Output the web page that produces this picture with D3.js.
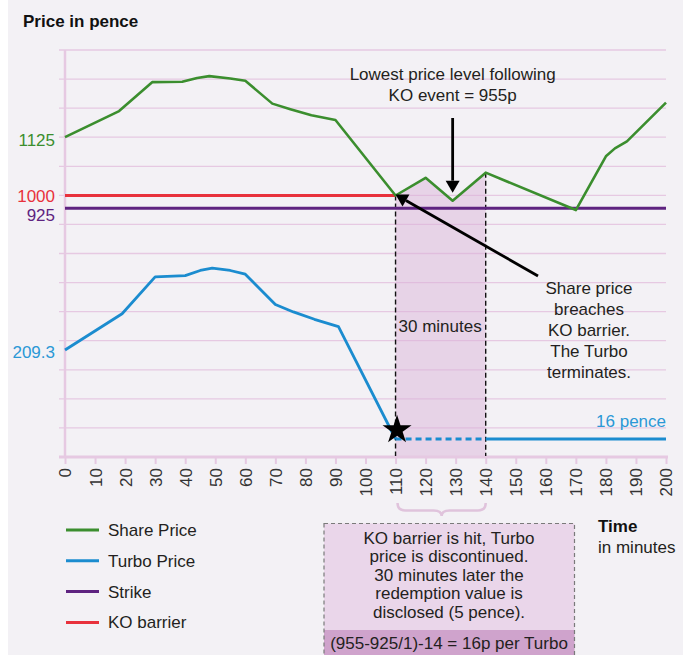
<!DOCTYPE html>
<html>
<head>
<meta charset="utf-8">
<script src="https://cdn.jsdelivr.net/npm/d3@7"></script>
<style>
  body { margin: 0; background: #fff; }
  svg { display: block; font-family: "Liberation Sans", Arial, sans-serif; }
</style>
</head>
<body>
<svg id="chart" width="694" height="655"></svg>
<script>
// minutes / pence
const shareTime  = [0, 18, 29, 39, 44, 48, 55, 60, 69, 75, 82, 90, 110, 120, 129, 140, 170, 180, 183, 187, 200];
const shareValue = [1125, 1181, 1243, 1244, 1252, 1256, 1251, 1246, 1197, 1185, 1172, 1162, 1000, 1038, 955, 1049, 918, 1084, 1101, 1116, 1199];

const turboTime  = [0, 19, 30, 40, 45, 49, 55, 60, 70, 76, 83, 91, 110];
const turboValue = [209.3, 288, 368, 371, 382, 387, 382, 374, 308, 292, 276, 260, 16];
const turboAfterTime  = [110, 140, 200];
const turboAfterValue = [16, 16, 16];

const strike = 925;
const koBarrier = 1000;
const koTime = 110;
const disclosedTime = 140;
const lowestAfterKO = 955;
const xTicks = d3.range(0, 201, 10);
const gridRows = 14;

const legendItems = ['Share Price', 'Turbo Price', 'Strike', 'KO barrier'];
const boxLines = ['KO barrier is hit, Turbo', 'price is discontinued.', '30 minutes later the', 'redemption value is', 'disclosed (5 pence).'];
const boxFormula = '(955-925/1)-14 = 16p per Turbo';
const breachLines = ['Share price', 'breaches', 'KO barrier.', 'The Turbo', 'terminates.'];
const lowestLines = ['Lowest price level following', 'KO event = 955p'];

const col = {
    share: '#3b8e2e',
    turbo: '#1b8ccf',
    strike: '#5e2380',
    ko: '#e8313c',
    grid: '#e6c9e2',
    text: '#231f20'
};

const svg = d3.select('#chart');

svg.append('rect')
    .attr('x', 8).attr('y', 0)
    .attr('width', 675).attr('height', 655)
    .attr('fill', '#f3f1f5');

const x = d3.scaleLinear().domain([0, 200]).range([65, 666]);
const gridY = d3.scaleLinear().domain([0, gridRows]).range([457, 50]);
// the share axis is schematic, so it is polylinear through the labelled levels
const shareY = d3.scaleLinear().domain([925, 955, 1000, 1125]).range([208.3, 200.7, 195.5, 137.2]);
const turboY = d3.scaleLinear().domain([16, 209.3]).range([439, 350]);

const share = shareTime.map((t, i) => ({ t, v: shareValue[i] }));
const turbo = turboTime.map((t, i) => ({ t, v: turboValue[i] }));
const turboAfter = turboAfterTime.map((t, i) => ({ t, v: turboAfterValue[i] }));

// grid
svg.append('g')
    .selectAll('line')
    .data(d3.range(1, gridRows + 1))
    .join('line')
    .attr('x1', 59).attr('x2', x(200))
    .attr('y1', d => gridY(d)).attr('y2', d => gridY(d))
    .attr('stroke', col.grid)
    .attr('stroke-width', 1.3);

// shaded 30 minute window under the share line
const windowData = share.filter(d => d.t >= koTime && d.t <= disclosedTime);
svg.append('path')
    .datum(windowData)
    .attr('fill', '#d9b0d6')
    .attr('fill-opacity', 0.45)
    .attr('d', d3.area().x(d => x(d.t)).y0(gridY(0)).y1(d => shareY(d.v)));

// y axis line
svg.append('line')
    .attr('x1', 65).attr('x2', 65)
    .attr('y1', gridY(gridRows)).attr('y2', gridY(0))
    .attr('stroke', col.grid).attr('stroke-width', 2.5);

// x axis
const xAxis = svg.append('g')
    .attr('transform', `translate(0,${gridY(0)})`)
    .call(d3.axisBottom(x).tickValues(xTicks).tickSize(7).tickPadding(10));
xAxis.select('.domain').attr('stroke', col.grid).attr('stroke-width', 3)
    .attr('d', `M59,0H${x(200) + 2}`);
xAxis.selectAll('.tick line').attr('stroke', col.grid).attr('stroke-width', 2);
xAxis.selectAll('.tick text')
    .attr('fill', '#333')
    .attr('font-size', 17)
    .attr('transform', 'rotate(-90)')
    .attr('text-anchor', 'end')
    .attr('x', -11).attr('y', 0).attr('dy', '0.35em');

// dashed window edges
[koTime, disclosedTime].forEach(t => {
    const d = share.find(p => p.t === t);
    svg.append('line')
        .attr('x1', x(t)).attr('x2', x(t))
        .attr('y1', shareY(d.v)).attr('y2', gridY(0) - 1)
        .attr('stroke', '#111').attr('stroke-width', 1.4)
        .attr('stroke-dasharray', '5,3');
});

// strike + KO barrier
svg.append('line')
    .attr('x1', x(0)).attr('x2', x(200))
    .attr('y1', shareY(strike)).attr('y2', shareY(strike))
    .attr('stroke', col.strike).attr('stroke-width', 3);
svg.append('line')
    .attr('x1', x(0)).attr('x2', x(koTime))
    .attr('y1', shareY(koBarrier)).attr('y2', shareY(koBarrier))
    .attr('stroke', col.ko).attr('stroke-width', 3);

// price lines
svg.append('path')
    .datum(share)
    .attr('fill', 'none').attr('stroke', col.share).attr('stroke-width', 2.6)
    .attr('stroke-linejoin', 'round')
    .attr('d', d3.line().x(d => x(d.t)).y(d => shareY(d.v)));

svg.append('path')
    .datum(turbo)
    .attr('fill', 'none').attr('stroke', col.turbo).attr('stroke-width', 2.8)
    .attr('stroke-linejoin', 'round')
    .attr('d', d3.line().x(d => x(d.t)).y(d => turboY(d.v)));

const tLine = d3.line().x(d => x(d.t)).y(d => turboY(d.v));
svg.append('path')
    .datum(turboAfter.slice(0, 2))
    .attr('fill', 'none').attr('stroke', col.turbo).attr('stroke-width', 2.8)
    .attr('stroke-dasharray', '6,4')
    .attr('d', tLine);
svg.append('path')
    .datum(turboAfter.slice(1))
    .attr('fill', 'none').attr('stroke', col.turbo).attr('stroke-width', 2.8)
    .attr('d', tLine);

// star at the knock-out
svg.append('path')
    .attr('d', d3.symbol(d3.symbolStar).size(262)())
    .attr('transform', `translate(${x(koTime) + 1.5},${turboY(16) - 9})`)
    .attr('fill', '#000');

// arrows
function arrow(x1, y1, x2, y2) {
    const ang = Math.atan2(y2 - y1, x2 - x1);
    const len = 12, half = 7;
    const bx = x2 - len * Math.cos(ang), by = y2 - len * Math.sin(ang);
    svg.append('line')
        .attr('x1', x1).attr('y1', y1).attr('x2', bx).attr('y2', by)
        .attr('stroke', '#000').attr('stroke-width', 2.8);
    svg.append('path')
        .attr('d', `M${x2},${y2}L${bx - half * Math.sin(ang)},${by + half * Math.cos(ang)}L${bx + half * Math.sin(ang)},${by - half * Math.cos(ang)}Z`)
        .attr('fill', '#000');
}
const lowX = x(shareTime[shareValue.indexOf(lowestAfterKO)]);
arrow(lowX, 118, lowX, shareY(lowestAfterKO) - 8);
arrow(538, 276, x(koTime), shareY(koBarrier) - 1);

// text helpers
function textBlock(lines, cx, y0, step, anchor, fill) {
    svg.append('g').selectAll('text')
        .data(lines)
        .join('text')
        .attr('x', cx)
        .attr('y', (d, i) => y0 + i * step)
        .attr('text-anchor', anchor)
        .attr('font-size', 17)
        .attr('fill', fill || col.text)
        .text(d => d);
}

textBlock(lowestLines, lowX, 80, 20.7, 'middle');
textBlock(breachLines, 589, 293.5, 21.2, 'middle');
textBlock(['30 minutes'], x(koTime) + 3, 332, 0, 'start');

svg.append('text')
    .attr('x', x(200)).attr('y', 427)
    .attr('text-anchor', 'end').attr('font-size', 17)
    .attr('fill', '#2a98d6').text('16 pence');

svg.append('text')
    .attr('x', 23).attr('y', 26.5)
    .attr('font-size', 17).attr('font-weight', 'bold')
    .attr('fill', '#111').text('Price in pence');

// y labels
const yLabels = [
    { text: '1125', y: shareY(1125), c: col.share, dy: 9 },
    { text: '1000', y: shareY(koBarrier), c: col.ko, dy: 6.5 },
    { text: '925', y: shareY(strike), c: col.strike, dy: 12.5 },
    { text: '209.3', y: turboY(209.3), c: '#2a98d6', dy: 8 }
];
svg.append('g').selectAll('text')
    .data(yLabels)
    .join('text')
    .attr('x', 55)
    .attr('y', d => d.y + d.dy)
    .attr('text-anchor', 'end')
    .attr('font-size', 17)
    .attr('fill', d => d.c)
    .text(d => d.text);

// brace under the window
const bx1 = x(koTime) + 2, bx2 = x(disclosedTime), bm = (bx1 + bx2) / 2;
svg.append('path')
    .attr('d', `M${bx1},503Q${bx1},510.5 ${bx1 + 8},510.5L${bm - 8},510.5Q${bm},510.5 ${bm},516Q${bm},510.5 ${bm + 8},510.5L${bx2 - 8},510.5Q${bx2},510.5 ${bx2},503`)
    .attr('fill', 'none').attr('stroke', '#e0c3dc').attr('stroke-width', 2.5);

// explanation box
svg.append('rect')
    .attr('x', 324).attr('y', 523.5).attr('width', 250.5).attr('height', 140)
    .attr('fill', '#ead6ea');
svg.append('rect')
    .attr('x', 324).attr('y', 630).attr('width', 250.5).attr('height', 30)
    .attr('fill', '#cfa3cc');
svg.append('rect')
    .attr('x', 324).attr('y', 523.5).attr('width', 250.5).attr('height', 140)
    .attr('fill', 'none').attr('stroke', '#7a7a7a').attr('stroke-width', 1.2)
    .attr('stroke-dasharray', '4,3');
textBlock(boxLines, 449, 544, 18.4, 'middle');
textBlock([boxFormula], 449, 649, 0, 'middle');

svg.append('text')
    .attr('x', 598).attr('y', 532)
    .attr('font-size', 17).attr('font-weight', 'bold')
    .attr('fill', '#111').text('Time');
svg.append('text')
    .attr('x', 598).attr('y', 553)
    .attr('font-size', 17)
    .attr('fill', col.text).text('in minutes');

// legend
const legendColors = [col.share, col.turbo, col.strike, col.ko];
const lg = svg.append('g').selectAll('g')
    .data(legendItems)
    .join('g')
    .attr('transform', (d, i) => `translate(66,${530 + i * 30.8})`);
lg.append('line')
    .attr('x1', 0).attr('x2', 33)
    .attr('stroke', (d, i) => legendColors[i]).attr('stroke-width', 3);
lg.append('text')
    .attr('x', 42).attr('dy', '0.35em')
    .attr('font-size', 17).attr('fill', col.text)
    .text(d => d);
</script>
</body>
</html>
